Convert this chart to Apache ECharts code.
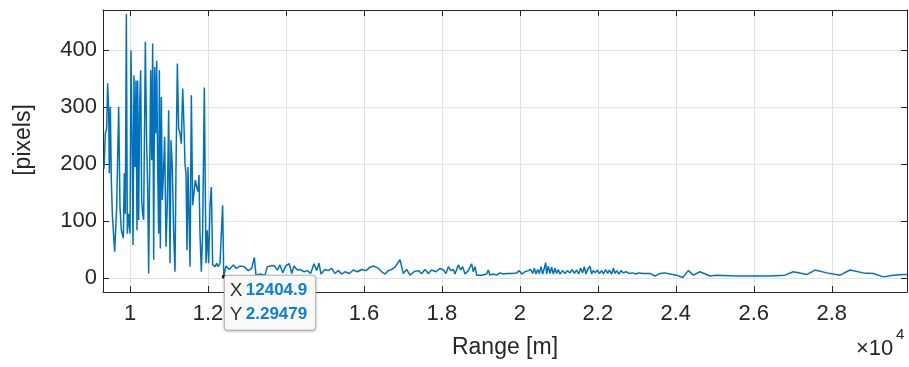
<!DOCTYPE html>
<html>
<head>
<meta charset="utf-8">
<title>Range vs pixels</title>
<script src="https://cdn.jsdelivr.net/npm/echarts@6/dist/echarts.min.js"></script>
<style>
  html, body { margin: 0; padding: 0; background: #fff; }
  #chart { width: 909px; height: 367px; }
</style>
</head>
<body>
<div id="chart"></div>
<script>
// range [m] of each sample
const rangeM = [
  9333, 9367, 9401, 9427, 9452, 9469, 9495, 9521, 9546, 9606,
  9658, 9709, 9743, 9777, 9829, 9854, 9880, 9906, 9931, 9965,
  10000, 10025, 10051, 10077, 10102, 10128, 10153, 10179, 10196, 10222,
  10248, 10273, 10299, 10324, 10350, 10393, 10427, 10453, 10478, 10504,
  10530, 10555, 10581, 10607, 10632, 10658, 10684, 10709, 10735, 10752,
  10778, 10803, 10829, 10855, 10889, 10923, 10957, 10991, 11026, 11051,
  11085, 11120, 11154, 11179, 11214, 11248, 11282, 11316, 11351, 11385,
  11410, 11436, 11462, 11487, 11513, 11539, 11573, 11607, 11641, 11675,
  11710, 11744, 11769, 11795, 11829, 11863, 11906, 11949, 11983, 12017,
  12052, 12086, 12120, 12154, 12188, 12223, 12265, 12308, 12342, 12376,
  12404.9,
  12462, 12547, 12650, 12718, 12821, 12924, 13035, 13120, 13189, 13231,
  13334, 13462, 13522, 13608, 13693, 13779, 13847, 13915, 14001, 14086,
  14146, 14206, 14291, 14360, 14463, 14548, 14634, 14719, 14788, 14847,
  14899, 15001, 15087, 15172, 15258, 15343, 15429, 15514, 15625, 15728,
  15831, 15942, 16053, 16156, 16258, 16369, 16455, 16540, 16626, 16711,
  16797, 16925, 17010, 17096, 17181, 17284, 17395, 17481, 17566, 17652,
  17737, 17848, 17951,
  18037, 18105, 18165, 18225, 18293, 18336, 18421, 18481, 18532, 18592,
  18678, 18763, 18806, 18849, 18892, 19020, 19148, 19191, 19233, 19319,
  19404, 19490, 19576, 19661, 19789, 19917, 19986, 20046, 20131, 20217,
  20276, 20328, 20371, 20413, 20456, 20499, 20542, 20584, 20627, 20661,
  20687, 20730, 20772, 20815, 20858, 20901, 20943, 20986, 21029, 21097,
  21157, 21217, 21286, 21345, 21397, 21457, 21508, 21559, 21610, 21653,
  21696, 21739, 21799, 21841, 21884, 21935, 21987, 22038, 22098, 22141,
  22200, 22252, 22294, 22354, 22397, 22440, 22483, 22542, 22594, 22653,
  22722, 22807, 22893, 22978, 23038, 23167, 23338, 23466, 23594, 23722,
  23850,
  24022, 24176, 24321, 24450, 24620, 24877, 25048, 25561, 26416, 26801,
  27015, 27357, 27570, 27870, 28212, 28468, 28810, 29067, 29323, 29580,
  29836, 29930
];

// detected size [pixels]
const pixelCount = [
  192, 254, 263, 342, 295, 184, 301, 172, 113, 46,
  125, 301, 125, 84, 70, 184, 113, 464, 78, 113,
  78, 400, 254, 58, 356, 195, 347, 84, 347, 102,
  306, 365, 137, 113, 102, 415, 236, 160, 8, 184,
  365, 207, 412, 32, 371, 254, 382, 195, 78, 365,
  52, 318, 137, 178, 248, 55, 131, 295, 26, 242,
  195, 78, 11, 190, 377, 263, 254, 236, 333, 266,
  201, 184, 49, 195, 113, 20, 321, 128, 131, 172,
  160, 152, 181, 78, 11, 78, 335, 26, 84, 26,
  128, 160, 23, 23, 20, 26, 20, 26, 23, 128,
  2.29479,
  21, 15, 23, 17, 21, 20, 13, 17, 36, 5,
  7, 5, 20, 21, 22, 14, 23, 9, 22, 25,
  8, 21, 14, 15, 11, 13, 8, 25, 13, 26,
  7, 15, 13, 17, 8, 13, 7, 11, 8, 14,
  11, 15, 13, 19, 21, 17, 11, 7, 13, 15,
  19, 32, 8, 15, 5, 11, 13, 8, 15, 8,
  14, 11, 17,
  14, 8, 20, 13, 15, 7, 23, 14, 20, 7,
  13, 25, 11, 20, 5, 5, 7, 14, 5, 7,
  5, 9, 7, 8, 8, 9, 13, 7, 11, 13,
  15, 8, 17, 7, 15, 8, 20, 7, 17, 27,
  7, 21, 8, 19, 7, 17, 8, 15, 7, 13,
  8, 13, 9, 15, 8, 14, 7, 17, 9, 20,
  7, 15, 21, 7, 13, 9, 14, 8, 13, 7,
  15, 8, 14, 7, 17, 8, 13, 7, 13, 9,
  11, 8, 9, 7, 9, 8, 8, 3.5, 8, 9,
  7,
  5, 1, 13, 5, 11, 3.5, 5, 3.5, 3.5, 5,
  11, 6, 14, 9, 5, 14, 9, 8, 2, 5,
  6, 6
];

const xTicks = [10000, 12000, 14000, 16000, 18000, 20000, 22000, 24000, 26000, 28000];
const yTicks = [0, 100, 200, 300, 400];
const tipRange = 12404.9;
const tipPixels = 2.29479;

const FONT = "'Liberation Sans', Arial, sans-serif";
const INK = '#262626';

const chart = echarts.init(document.getElementById('chart'), null, { renderer: 'canvas' });

const frameAxis = {
  axisLine: { show: true, onZero: false, lineStyle: { color: INK, width: 1 } },
  axisLabel: { show: false },
  splitLine: { show: false }
};

const option = {
  animation: false,
  backgroundColor: '#fff',
  grid: { left: 103, right: 2, top: 10, bottom: 75, containLabel: false, outerBoundsMode: 'none' },
  xAxis: [
    {
      type: 'value',
      min: 9307,
      max: 29930,
      position: 'bottom',
      axisLine: { onZero: false, lineStyle: { color: INK, width: 1 } },
      axisTick: { inside: true, length: 6, customValues: xTicks, lineStyle: { color: INK } },
      axisLabel: {
        customValues: xTicks,
        formatter: v => String(Number((v / 1e4).toFixed(1))),
        fontSize: 22, color: INK, fontFamily: FONT, margin: 11
      },
      splitLine: { show: true, lineStyle: { color: '#e2e2e2', width: 1 } },
      name: 'Range [m]',
      nameLocation: 'middle',
      nameGap: 44,
      nameTextStyle: { fontSize: 23, color: INK, fontFamily: FONT }
    },
    Object.assign({
      type: 'value', min: 9307, max: 29930, position: 'top',
      axisTick: { inside: true, length: 6, customValues: xTicks, lineStyle: { color: INK } }
    }, frameAxis)
  ],
  yAxis: [
    {
      type: 'value',
      min: -24.6,
      max: 471,
      position: 'left',
      axisLine: { show: true, onZero: false, lineStyle: { color: INK, width: 1 } },
      axisTick: { show: true, inside: true, length: 6, customValues: yTicks, lineStyle: { color: INK } },
      axisLabel: {
        customValues: yTicks,
        fontSize: 22, color: INK, fontFamily: FONT, margin: 6
      },
      splitLine: { show: true, lineStyle: { color: '#e2e2e2', width: 1 } },
      name: '[pixels]',
      nameLocation: 'middle',
      nameRotate: 90,
      nameGap: 68,
      nameTextStyle: { fontSize: 23, color: INK, fontFamily: FONT, padding: [0, 0, 0, 22] }
    },
    Object.assign({
      type: 'value', min: -24.6, max: 471, position: 'right',
      axisTick: { show: true, inside: true, length: 6, customValues: yTicks, lineStyle: { color: INK } }
    }, frameAxis)
  ],
  series: [
    {
      type: 'line',
      xAxisIndex: 0,
      yAxisIndex: 0,
      data: rangeM.map((r, i) => [r, pixelCount[i]]),
      showSymbol: false,
      lineStyle: { color: '#0072BD', width: 1.5 },
      markPoint: {
        symbol: 'circle',
        symbolSize: 4,
        itemStyle: { color: '#1a1a1a' },
        data: [{ coord: [tipRange, tipPixels] }],
        label: {
          show: true,
          position: [3, 1],
          formatter: '{k|X} {v|' + tipRange + '}\n{k|Y} {v|' + tipPixels + '}',
          backgroundColor: 'rgba(250,250,250,0.96)',
          borderColor: '#b8b8b8',
          borderWidth: 1,
          borderRadius: 3,
          padding: [3, 8, 3, 5],
          lineHeight: 24,
          shadowColor: 'rgba(0,0,0,0.18)',
          shadowBlur: 3,
          shadowOffsetY: 1,
          rich: {
            k: { fontSize: 19, color: '#333', fontFamily: FONT, lineHeight: 24 },
            v: { fontSize: 17, fontWeight: 'bold', color: '#0a80dc', fontFamily: FONT, lineHeight: 24 }
          }
        }
      }
    }
  ],
  graphic: [
    { type: 'text', left: 856, top: 338, style: { text: '×10', fontSize: 22, fill: INK, fontFamily: FONT } },
    { type: 'text', left: 896, top: 327, style: { text: '4', fontSize: 15, fill: INK, fontFamily: FONT } }
  ]
};

chart.setOption(option);
</script>
</body>
</html>
